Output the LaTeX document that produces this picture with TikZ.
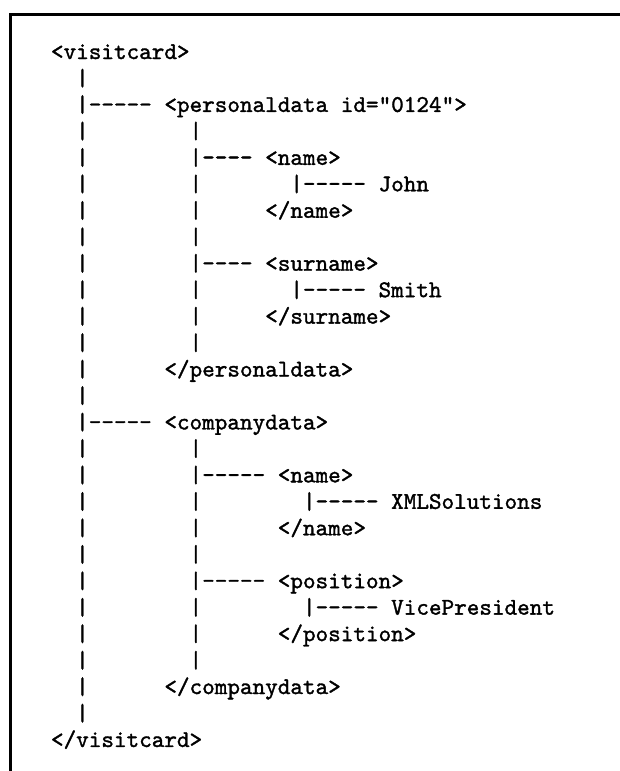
\documentclass[tikz,border=0pt]{standalone}
\usepackage{fontspec}
\newfontfamily\vtt[FakeBold=1.4]{lmmono10-regular.otf}
\begin{document}
\begin{tikzpicture}[x=1pt,y=-1pt,
  ln/.style={anchor=base west,inner sep=0pt,outer sep=0pt,font=\vtt\fontsize{24}{26}\selectfont},
  frame/.style={line width=3pt,line cap=rect}]
\useasboundingbox (0,0) rectangle (619,771);
\def\xo{51}
\def\bl#1{{59+(#1-1)*26.46}}
\coordinate (fb) at (10,771);
\coordinate (fc) at (10,14);
\coordinate (fr) at (619,14);
\draw[frame] (fb) -- (fc) -- (fr);
\node[ln] (l1)  at (\xo,\bl{1})  {<visitcard>};
\node[ln] (l2)  at (\xo,\bl{2})  {~~|};
\node[ln] (l3)  at (\xo,\bl{3})  {~~|-----~<personaldata~id="0124">};
\node[ln] (l4)  at (\xo,\bl{4})  {~~|~~~~~~~~|};
\node[ln] (l5)  at (\xo,\bl{5})  {~~|~~~~~~~~|----~<name>};
\node[ln] (l6)  at (\xo,\bl{6})  {~~|~~~~~~~~|~~~~~~~|-----~John};
\node[ln] (l7)  at (\xo,\bl{7})  {~~|~~~~~~~~|~~~~~</name>};
\node[ln] (l8)  at (\xo,\bl{8})  {~~|~~~~~~~~|};
\node[ln] (l9)  at (\xo,\bl{9})  {~~|~~~~~~~~|----~<surname>};
\node[ln] (l10) at (\xo,\bl{10}) {~~|~~~~~~~~|~~~~~~~|-----~Smith};
\node[ln] (l11) at (\xo,\bl{11}) {~~|~~~~~~~~|~~~~~</surname>};
\node[ln] (l12) at (\xo,\bl{12}) {~~|~~~~~~~~|};
\node[ln] (l13) at (\xo,\bl{13}) {~~|~~~~~~</personaldata>};
\node[ln] (l14) at (\xo,\bl{14}) {~~|};
\node[ln] (l15) at (\xo,\bl{15}) {~~|-----~<companydata>};
\node[ln] (l16) at (\xo,\bl{16}) {~~|~~~~~~~~|};
\node[ln] (l17) at (\xo,\bl{17}) {~~|~~~~~~~~|-----~<name>};
\node[ln] (l18) at (\xo,\bl{18}) {~~|~~~~~~~~|~~~~~~~~|-----~XMLSolutions};
\node[ln] (l19) at (\xo,\bl{19}) {~~|~~~~~~~~|~~~~~~</name>};
\node[ln] (l20) at (\xo,\bl{20}) {~~|~~~~~~~~|};
\node[ln] (l21) at (\xo,\bl{21}) {~~|~~~~~~~~|-----~<position>};
\node[ln] (l22) at (\xo,\bl{22}) {~~|~~~~~~~~|~~~~~~~~|-----~VicePresident};
\node[ln] (l23) at (\xo,\bl{23}) {~~|~~~~~~~~|~~~~~~</position>};
\node[ln] (l24) at (\xo,\bl{24}) {~~|~~~~~~~~|};
\node[ln] (l25) at (\xo,\bl{25}) {~~|~~~~~~</companydata>};
\node[ln] (l26) at (\xo,\bl{26}) {~~|};
\node[ln] (l27) at (\xo,\bl{27}) {</visitcard>};
\end{tikzpicture}
\end{document}
